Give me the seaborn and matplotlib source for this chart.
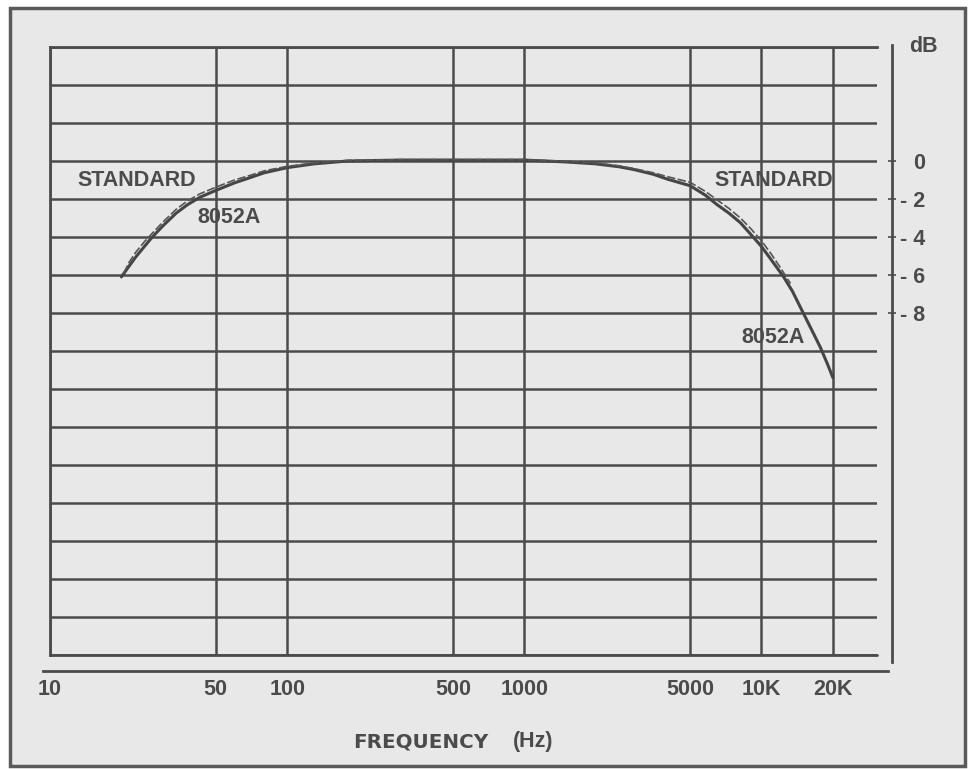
import matplotlib
matplotlib.use("Agg")
import matplotlib.pyplot as plt
import matplotlib.ticker as mticker
from matplotlib.patches import Rectangle
import pandas as pd
import seaborn as sns

# ---------- DATA ----------
freq_8052a = [20, 21.5, 23, 25, 27, 30, 34, 38, 43, 50, 60, 70, 80, 100, 130, 180, 300, 500, 1000,
              1500, 2000, 2500, 2900, 3500, 4000, 5000, 5800, 6500, 7300, 8150, 9000, 10000,
              11000, 12400, 13500, 15000, 16300, 17700, 19000, 20000]
db_8052a = [-6.1, -5.55, -5.05, -4.5, -4.0, -3.4, -2.75, -2.3, -1.9, -1.55, -1.15, -0.87, -0.62, -0.35,
            -0.15, 0.0, 0.05, 0.05, 0.05,
            -0.05, -0.15, -0.3, -0.45, -0.7, -0.95, -1.3, -1.8, -2.3, -2.75, -3.25, -3.85, -4.5,
            -5.2, -6.1, -6.85, -8.0, -8.9, -9.8, -10.7, -11.4]

freq_standard = [20.5, 21.5, 23, 25, 27, 30, 34, 38, 43, 50, 60, 70, 80, 100, 130, 180, 300, 500, 1000,
                 1500, 2000, 2500, 2900, 3500, 4000, 5000, 5800, 6500, 7300, 8150, 9000, 10000,
                 11000, 12000, 13250]
db_standard = [-5.9, -5.35, -4.8, -4.25, -3.8, -3.2, -2.55, -2.1, -1.72, -1.38, -1.0, -0.75, -0.52, -0.28,
               -0.1, 0.03, 0.07, 0.07, 0.07,
               -0.02, -0.1, -0.25, -0.4, -0.62, -0.82, -1.12, -1.6, -2.05, -2.5, -3.0, -3.55, -4.2,
               -4.9, -5.6, -6.45]

x_ticks = [10, 50, 100, 500, 1000, 5000, 10000, 20000]
x_tick_labels = ["10", "50", "100", "500", "1000", "5000", "10K", "20K"]
db_ticks = [0, -2, -4, -6, -8]
db_tick_labels = ["0", "- 2", "- 4", "- 6", "- 8"]
db_grid = list(range(-26, 7, 2))

INK = "#4b4b4b"
PAPER = "#e8e8e8"
W, H = 970, 769

sns.set_theme(style="white")
plt.rcParams['font.family'] = ['Liberation Sans', 'DejaVu Sans']

fig = plt.figure(figsize=(W / 100, H / 100), dpi=100)
fig.patch.set_facecolor("white")
# paper + frame
fig.add_artist(Rectangle((10 / W, 1 - 766 / H), 955 / W, 758 / H, transform=fig.transFigure,
                         facecolor=PAPER, edgecolor="#5a5a5a", lw=2.5, zorder=0))

ax = fig.add_axes([50 / W, 1 - 655 / H, 827 / W, 608 / H])
ax.set_facecolor("none")
ax.set_xscale("log")
ax.set_xlim(10, 30700)
ax.set_ylim(-26, 6)

df_a = pd.DataFrame({"freq": freq_8052a, "db": db_8052a})
df_s = pd.DataFrame({"freq": freq_standard, "db": db_standard})
sns.lineplot(data=df_a, x="freq", y="db", ax=ax, color="#454545", lw=2.2, sort=False, estimator=None)
sns.lineplot(data=df_s, x="freq", y="db", ax=ax, color="#555555", lw=1.2, sort=False, estimator=None,
             linestyle=(0, (5, 1.5)))

# x axis
ax.xaxis.set_major_locator(mticker.FixedLocator(x_ticks))
ax.xaxis.set_major_formatter(mticker.FixedFormatter(x_tick_labels))
ax.xaxis.set_minor_locator(mticker.NullLocator())
# y axis on the right
ax.set_yticks(db_grid, minor=True)
ax.set_yticks(db_ticks)
ax.set_yticklabels(db_tick_labels)
ax.yaxis.tick_right()

ax.grid(True, which="major", axis="x", color=INK, lw=1.8)
ax.grid(True, which="both", axis="y", color=INK, lw=1.8)
ax.set_axisbelow(True)
# bottom line of the grid box (sits on the axes edge)
ax.axhline(db_grid[0], color=INK, lw=2, clip_on=False)

for s in ["left", "top"]:
    ax.spines[s].set_color(INK)
    ax.spines[s].set_linewidth(2)
ax.spines["right"].set_position(("outward", 15 * 0.72))
ax.spines["right"].set_bounds(-26.37, 6.1)
ax.spines["right"].set_color(INK)
ax.spines["right"].set_linewidth(2)
ax.spines["bottom"].set_position(("outward", 16 * 0.72))
ax.spines["bottom"].set_bounds(9.35, 34000)
ax.spines["bottom"].set_color(INK)
ax.spines["bottom"].set_linewidth(2)

ax.tick_params(axis="x", which="major", direction="inout", length=6, width=1.2, color=INK,
               labelcolor=INK, labelsize=15.5, pad=3)
ax.tick_params(axis="y", which="major", direction="inout", length=6, width=1.2, color=INK,
               labelcolor=INK, labelsize=15.5, pad=21)
ax.tick_params(axis="y", which="minor", length=0)
for lab in ax.get_xticklabels():
    lab.set_fontweight("bold")
for lab in ax.get_yticklabels():
    lab.set_fontweight("bold")
    lab.set_horizontalalignment("right")

ax.set_xlabel("")
ax.set_ylabel("")

# labels on curves
txt = dict(color=INK, fontsize=15.5, fontweight="bold", va="center")
ax.text(13.0, -1.0, "STANDARD", ha="left", **txt)
ax.text(41.7, -2.95, "8052A", ha="left", **txt)
ax.text(6340, -1.05, "STANDARD", ha="left", **txt)
ax.text(8240, -9.3, "8052A", ha="left", **txt)
ax.text(1.056, 1.0, "dB", transform=ax.transAxes, ha="center", **txt)

# axis title: the original is widely tracked, DejaVu's wider caps come close
fig.text(353 / W, 1 - 742 / H, "FREQUENCY", ha="left", va="center", color=INK,
         fontsize=14.3, fontweight="bold", family=["DejaVu Sans"])
fig.text(513 / W, 1 - 742 / H, "(Hz)", ha="left", **txt)

fig.savefig("out.png", dpi=100, facecolor=fig.get_facecolor())
